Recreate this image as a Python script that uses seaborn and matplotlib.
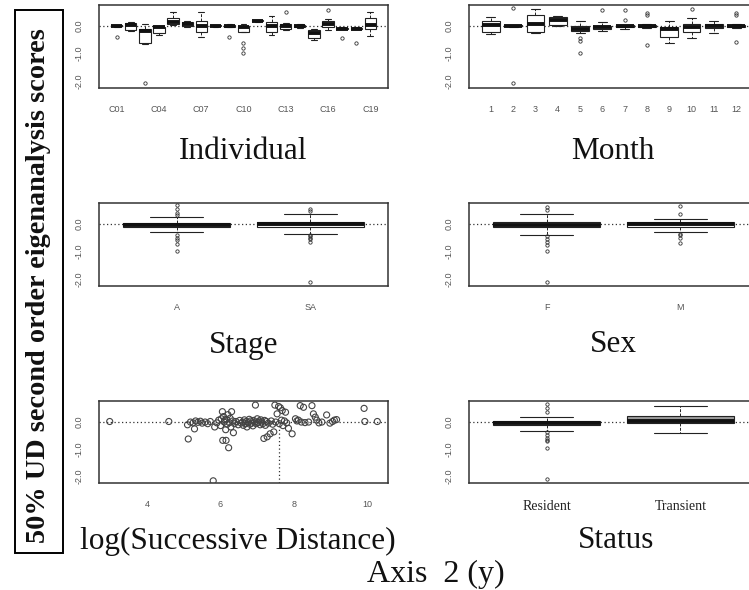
import numpy as np
import pandas as pd
import matplotlib
matplotlib.use("Agg")
import matplotlib.pyplot as plt
from matplotlib.patches import Rectangle
import seaborn as sns

# ---------------- data ----------------
individuals = ["C%02d" % i for i in range(1, 20)]
ind_values = [
    [-0.42, -0.03, -0.02, -0.01, 0.0, 0.01, 0.02, 0.03, 0.04],
    [-0.2, -0.17, -0.15, -0.05, 0.02, 0.06, 0.1, 0.12, 0.15],
    [-2.06, -0.66, -0.64, -0.2, -0.18, -0.15, -0.13, 0.0, 0.08],
    [-0.32, -0.3, -0.28, -0.1, -0.05, -0.05, -0.04, -0.02, 0.0],
    [0.02, 0.05, 0.08, 0.12, 0.15, 0.2, 0.27, 0.4, 0.5],
    [-0.03, -0.02, -0.01, 0.02, 0.05, 0.1, 0.14, 0.16, 0.18],
    [-0.4, -0.3, -0.22, -0.1, 0.0, 0.1, 0.18, 0.35, 0.5],
    [-0.03, -0.02, -0.02, -0.01, 0.0, 0.01, 0.02, 0.02, 0.03],
    [-0.42, -0.06, -0.03, -0.01, 0.0, 0.01, 0.03, 0.05, 0.07],
    [-1.0, -0.82, -0.64, -0.22, -0.15, -0.1, -0.05, -0.03, -0.02, 0.0, 0.02, 0.03, 0.05],
    [0.14, 0.15, 0.16, 0.17, 0.18, 0.18, 0.19, 0.2, 0.21],
    [-0.34, -0.28, -0.22, -0.1, 0.0, 0.08, 0.14, 0.25, 0.35],
    [-0.14, -0.12, -0.1, -0.05, 0.0, 0.04, 0.08, 0.1, 0.5],
    [-0.07, -0.06, -0.05, -0.02, 0.0, 0.02, 0.04, 0.05, 0.06],
    [-0.5, -0.48, -0.46, -0.35, -0.28, -0.2, -0.16, -0.14, -0.12],
    [-0.16, -0.1, -0.04, 0.02, 0.05, 0.1, 0.18, 0.25, 0.58],
    [-0.46, -0.13, -0.12, -0.11, -0.1, -0.09, -0.08, -0.07, -0.06],
    [-0.64, -0.13, -0.12, -0.11, -0.1, -0.09, -0.08, -0.07, -0.06],
    [-0.37, -0.2, -0.1, -0.02, 0.02, 0.15, 0.27, 0.4, 0.5],
]

months = [str(m) for m in range(1, 13)]
month_values = [
    [-0.3, -0.26, -0.22, -0.05, 0.02, 0.1, 0.18, 0.25, 0.33],
    [-2.08, -0.03, -0.02, -0.01, 0.0, 0.01, 0.02, 0.03, 0.63],
    [-0.28, -0.25, -0.22, 0.0, 0.05, 0.2, 0.39, 0.5, 0.59],
    [0.0, 0.01, 0.02, 0.1, 0.2, 0.28, 0.33, 0.34, 0.35],
    [-0.98, -0.55, -0.45, -0.28, -0.18, -0.16, -0.14, -0.12, -0.1, -0.08,
     -0.06, -0.04, -0.02, 0.05, 0.1, 0.14, 0.18],
    [-0.2, -0.16, -0.13, -0.08, -0.05, -0.02, 0.0, 0.15, 0.57],
    [-0.12, -0.09, -0.06, -0.04, -0.02, 0.0, 0.02, 0.2, 0.57],
    [-0.7, -0.08, -0.06, -0.04, -0.02, -0.01, 0.0, 0.01, 0.02, 0.03, 0.06, 0.38, 0.47],
    [-0.62, -0.5, -0.42, -0.2, -0.1, -0.06, -0.04, 0.1, 0.18],
    [-0.46, -0.3, -0.22, -0.1, -0.03, 0.03, 0.08, 0.27, 0.6],
    [-0.28, -0.15, -0.07, -0.03, 0.0, 0.04, 0.08, 0.12, 0.18],
    [-0.6, -0.08, -0.06, -0.04, -0.02, -0.01, 0.0, 0.01, 0.02, 0.04, 0.06, 0.4, 0.45],
]

stages = ["A", "SA"]
stage_values = [
    [-1.0, -0.72, -0.6, -0.5, -0.4, -0.31, -0.12, -0.1, -0.08, -0.07, -0.05, -0.04,
     -0.03, -0.02, -0.01, 0.0, 0.01, 0.02, 0.03, 0.1, 0.25, 0.3, 0.4, 0.55, 0.66],
    [-2.1, -0.65, -0.55, -0.5, -0.45, -0.42, -0.36, -0.1, -0.08, -0.07, -0.05, -0.04,
     -0.03, -0.01, 0.0, 0.01, 0.02, 0.03, 0.05, 0.06, 0.07, 0.08, 0.12, 0.15, 0.2,
     0.3, 0.34, 0.46, 0.54],
]

sexes = ["F", "M"]
sex_values = [
    [-2.1, -1.0, -0.75, -0.65, -0.55, -0.45, -0.4, -0.13, -0.11, -0.09, -0.07, -0.06,
     -0.05, -0.04, -0.03, -0.02, -0.01, 0.0, 0.02, 0.03, 0.05, 0.07, 0.1, 0.15, 0.2,
     0.28, 0.36, 0.48, 0.6],
    [-0.7, -0.5, -0.42, -0.36, -0.3, -0.1, -0.08, -0.06, -0.05, -0.03, -0.02, -0.01,
     0.0, 0.02, 0.03, 0.05, 0.1, 0.14, 0.18, 0.36, 0.63],
]

statuses = ["Resident", "Transient"]
status_values = [
    [-2.1, -0.98, -0.7, -0.67, -0.6, -0.5, -0.4, -0.33, -0.14, -0.12, -0.1, -0.09,
     -0.08, -0.07, -0.06, -0.05, -0.04, -0.03, -0.02, -0.01, 0.0, 0.0, 0.01, 0.01,
     0.02, 0.05, 0.08, 0.1, 0.14, 0.18, 0.35, 0.5, 0.64],
    [-0.42, -0.2, -0.06, 0.0, 0.03, 0.1, 0.2, 0.4, 0.58],
]

log_dist = [2.98, 4.59, 5.10, 5.12, 5.18, 5.25, 5.29, 5.32, 5.38, 5.45, 5.50, 5.58,
            5.65, 5.72, 5.80, 5.84, 5.90, 5.95, 6.00, 6.02, 6.05, 6.06, 6.08, 6.10,
            6.12, 6.14, 6.15, 6.16, 6.18, 6.20, 6.22, 6.24, 6.26, 6.28, 6.30, 6.33,
            6.35, 6.38, 6.42, 6.48, 6.52, 6.56, 6.60, 6.62, 6.65, 6.68, 6.70, 6.72,
            6.75, 6.78, 6.80, 6.82, 6.85, 6.88, 6.90, 6.93, 6.95, 6.97, 7.00, 7.02,
            7.05, 7.08, 7.10, 7.12, 7.15, 7.18, 7.20, 7.22, 7.25, 7.27, 7.30, 7.35,
            7.38, 7.42, 7.45, 7.48, 7.50, 7.54, 7.58, 7.60, 7.63, 7.66, 7.68, 7.70,
            7.74, 7.77, 7.80, 7.85, 7.95, 8.04, 8.08, 8.12, 8.17, 8.20, 8.26, 8.30,
            8.40, 8.49, 8.53, 8.58, 8.62, 8.68, 8.76, 8.89, 8.98, 9.05, 9.10, 9.16,
            9.91, 9.93, 10.27]
dist_score = [0.00, 0.00, -0.12, -0.64, -0.02, -0.05, -0.27, 0.02, -0.03, 0.01, -0.06, -0.02,
              -0.08, 0.00, -2.17, -0.20, -0.05, 0.05, -0.15, 0.10, 0.36, -0.69, 0.18, -0.02,
              0.05, -0.30, -0.69, 0.08, -0.10, 0.25, -0.96, -0.04, 0.12, -0.20, 0.36, 0.02,
              -0.41, -0.08, 0.00, -0.12, 0.04, -0.06, -0.02, -0.14, 0.06, -0.08, 0.00, -0.20,
              -0.04, 0.08, -0.10, 0.02, -0.06, -0.16, 0.04, -0.02, 0.60, -0.08, 0.10, -0.04,
              0.02, -0.12, 0.06, -0.02, -0.08, -0.62, 0.04, -0.14, 0.00, -0.56, -0.06, -0.45,
              0.02, -0.10, -0.38, 0.60, -0.02, 0.28, 0.55, -0.08, 0.50, 0.05, 0.40, -0.15,
              0.02, 0.34, -0.05, -0.25, -0.45, 0.10, 0.02, 0.05, 0.58, -0.02, 0.52, -0.04,
              -0.02, 0.58, 0.28, 0.16, 0.05, -0.05, -0.02, 0.24, -0.06, 0.00, 0.05, 0.07,
              0.48, 0.00, 0.00]
dist_cutoff = 7.59

y_ticks = [0.5, 0.0, -0.5, -1.0, -1.5, -2.0]
y_ticklabels = ["", "0.0", "", "-1.0", "", "-2.0"]
dist_ticks = [4, 6, 8, 10]

# ---------------- figure ----------------
sns.set_style("white")
plt.rcParams['font.family'] = ['Liberation Serif', 'DejaVu Serif']

W, H = 749, 590
fig = plt.figure(figsize=(W / 100, H / 100), dpi=100)
fig.patch.set_facecolor("white")


def add_ax(x0, y0, x1, y1):
    return fig.add_axes([x0 / W, 1 - y1 / H, (x1 - x0) / W, (y1 - y0) / H])


LEFT = (99, 388)
RIGHT = (469, 758)
ROWS = [(5, 88), (203, 286), (401, 483)]
YLIM = (-2.25, 0.75)
LINE = "#222222"

box_kw = dict(
    width=0.8, whis=1.5, linecolor=LINE, linewidth=0.8,
    flierprops=dict(marker="o", markerfacecolor="none", markeredgecolor="#333333",
                    markeredgewidth=0.6, markersize=2.4),
    medianprops=dict(linewidth=2.8, color="#111111", solid_capstyle="butt"),
    whiskerprops=dict(linestyle=(0, (3, 1.5)), linewidth=0.7),
    capprops=dict(linewidth=0.8),
)


def long_df(cats, vals, name):
    rows = [(c, v) for c, vs in zip(cats, vals) for v in vs]
    return pd.DataFrame(rows, columns=[name, "score"])


def style(ax, n=None):
    ax.set_ylim(*YLIM)
    if n is not None:
        ax.set_xlim(-0.5 - 0.04 * n, n - 0.5 + 0.04 * n)
    ax.set_yticks(y_ticks)
    ax.set_yticklabels(y_ticklabels, rotation=90, va="center")
    ax.tick_params(axis="both", direction="out", length=3, width=0.8, color="#444444",
                   labelcolor="#555555", labelsize=6.5, labelfontfamily="Liberation Sans")
    ax.tick_params(axis="y", pad=8)
    ax.tick_params(axis="x", pad=9)
    for s in ax.spines.values():
        s.set_visible(True)
        s.set_linewidth(1.1)
        s.set_color("#333333")
    ax.axhline(0, color="#333333", lw=0.9, ls=(0, (1, 2)), zorder=0.5)
    ax.set_xlabel("")
    ax.set_ylabel("")
    ax.grid(False)


# Individual
ax1 = add_ax(LEFT[0], ROWS[0][0], LEFT[1], ROWS[0][1])
sns.boxplot(data=long_df(individuals, ind_values, "ind"), x="ind", y="score",
            order=individuals, color="white", ax=ax1, **box_kw)
style(ax1, len(individuals))
ax1.set_xticks(range(len(individuals)))
ax1.set_xticklabels([c if i % 3 == 0 else "" for i, c in enumerate(individuals)])

# Month
ax2 = add_ax(RIGHT[0], ROWS[0][0], RIGHT[1], ROWS[0][1])
sns.boxplot(data=long_df(months, month_values, "month"), x="month", y="score",
            order=months, color="white", ax=ax2, **box_kw)
style(ax2, len(months))

# Stage
ax3 = add_ax(LEFT[0], ROWS[1][0], LEFT[1], ROWS[1][1])
sns.boxplot(data=long_df(stages, stage_values, "stage"), x="stage", y="score",
            order=stages, color="white", ax=ax3, **box_kw)
style(ax3, len(stages))

# Sex
ax4 = add_ax(RIGHT[0], ROWS[1][0], RIGHT[1], ROWS[1][1])
sns.boxplot(data=long_df(sexes, sex_values, "sex"), x="sex", y="score",
            order=sexes, color="white", ax=ax4, **box_kw)
style(ax4, len(sexes))

# log(Successive Distance)
ax5 = add_ax(LEFT[0], ROWS[2][0], LEFT[1], ROWS[2][1])
sns.scatterplot(x=log_dist, y=dist_score, ax=ax5, s=19, facecolor="none",
                edgecolor="#444444", linewidth=0.8, zorder=3)
style(ax5)
lo, hi = min(log_dist), max(log_dist)
pad = 0.04 * (hi - lo)
ax5.set_xlim(lo - pad, hi + pad)
ax5.set_xticks(dist_ticks)
ax5.set_xticklabels([str(t) for t in dist_ticks])
ax5.plot([dist_cutoff, dist_cutoff], [YLIM[0], 0], color="#333333", lw=0.9,
         ls=(0, (1, 2)), zorder=0.5)

# Status
ax6 = add_ax(RIGHT[0], ROWS[2][0], RIGHT[1], ROWS[2][1])
sns.boxplot(data=long_df(statuses, status_values, "status"), x="status", y="score",
            order=statuses, hue="status", palette=["white", "#9a9a9a"], legend=False,
            ax=ax6, **box_kw)
style(ax6, len(statuses))
ax6.tick_params(axis="x", labelfontfamily="Liberation Serif", labelsize=10,
                labelcolor="#222222", pad=9)

# panel titles
titles = [("Individual", 243.5, 152), ("Month", 613, 152),
          ("Stage", 243.5, 345), ("Sex", 613, 345),
          ("log(Successive Distance)", 238, 541), ("Status", 616, 541)]
for txt, x, y in titles:
    fig.text(x / W, 1 - y / H, txt, ha="center", va="center", fontsize=22.5,
             family="Liberation Serif", color="#111111")
fig.text(436 / W, 1 - 574 / H, "Axis  2 (y)", ha="center", va="center", fontsize=23,
         family="Liberation Serif", color="#111111")

# boxed vertical label
fig.add_artist(Rectangle((15 / W, 1 - 553 / H), 48 / W, 543 / H,
                         transform=fig.transFigure, fill=False, lw=1.4, ec="black"))
fig.text(39 / W, 1 - 286 / H, "50% UD second order eigenanalysis scores",
         rotation=90, ha="center", va="center", fontsize=20.3, fontweight="bold",
         family="Liberation Serif", color="#111111")

fig.savefig("out.png", dpi=100)
